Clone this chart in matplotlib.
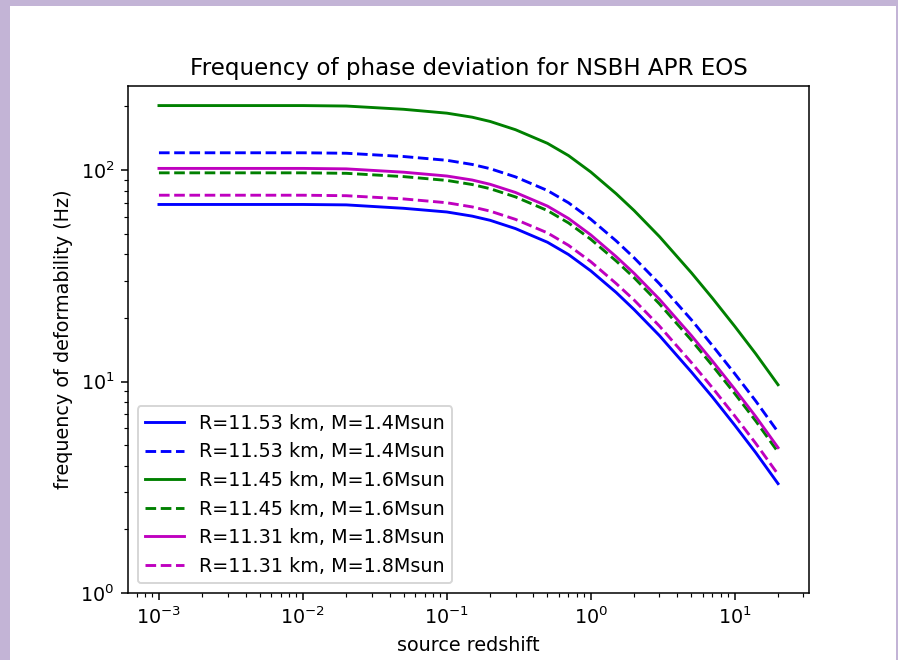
#!/usr/bin/env python3
"""
Frequency of phase deviation for NSBH (APR EOS) vs source redshift.
Log-log plot, values read off the reference figure.
"""

import matplotlib
matplotlib.use("Agg")
import matplotlib.pyplot as plt
from matplotlib.patches import Rectangle

# source redshift samples
z = [0.001, 0.01, 0.02, 0.05, 0.1, 0.15, 0.2, 0.3, 0.5, 0.7, 1, 1.5, 2, 3, 5, 7, 10, 14, 20]

# frequency of deformability (Hz)
f_1p4_solid = [68.8, 68.8, 68.5, 66.0, 63.4, 60.6, 57.9, 52.9, 45.6, 39.9, 33.4, 26.4, 21.9,
               16.5, 11.1, 8.45, 6.22, 4.61, 3.29]
f_1p4_dash = [120.8, 120.8, 120.2, 116.0, 111.3, 106.4, 101.6, 92.9, 80.1, 70.1, 58.6, 46.3, 38.5,
              29.0, 19.6, 14.8, 10.9, 8.09, 5.77]
f_1p6_solid = [202.0, 202.0, 201.0, 194.0, 186.0, 178.0, 169.9, 155.3, 133.9, 117.2, 98.0, 77.4, 64.4,
               48.5, 32.7, 24.8, 18.26, 13.53, 9.66]
f_1p6_dash = [97.1, 97.1, 96.6, 93.2, 89.4, 85.5, 81.7, 74.7, 64.4, 56.3, 47.1, 37.2, 31.0,
              23.3, 15.7, 11.9, 8.78, 6.51, 4.64]
f_1p8_solid = [101.9, 101.9, 101.4, 97.8, 93.8, 89.8, 85.7, 78.4, 67.6, 59.1, 49.4, 39.0, 32.5,
               24.5, 16.5, 12.5, 9.21, 6.83, 4.87]
f_1p8_dash = [76.1, 76.1, 75.7, 73.1, 70.1, 67.0, 64.0, 58.5, 50.5, 44.1, 36.9, 29.1, 24.3,
              18.3, 12.3, 9.35, 6.88, 5.10, 3.64]

labels = [
    "R=11.53 km, M=1.4Msun",
    "R=11.53 km, M=1.4Msun",
    "R=11.45 km, M=1.6Msun",
    "R=11.45 km, M=1.6Msun",
    "R=11.31 km, M=1.8Msun",
    "R=11.31 km, M=1.8Msun",
]


def main():
    dpi = 138
    fig = plt.figure(figsize=(898 / dpi, 660 / dpi), dpi=dpi, facecolor="#c3b4d6")
    # white figure area inside the lavender frame
    fig.patches.append(Rectangle((10 / 898, 0), 886 / 898, 654 / 660,
                                 transform=fig.transFigure, facecolor="white",
                                 edgecolor="none", zorder=-10))

    ax = fig.add_axes([128 / 898, 67 / 660, 681 / 898, 507 / 660])

    series = [f_1p4_solid, f_1p4_dash, f_1p6_solid, f_1p6_dash, f_1p8_solid, f_1p8_dash]
    styles = ["b-", "b--", "g-", "g--", "m-", "m--"]
    for ys, st, lab in zip(series, styles, labels):
        ax.loglog(z, ys, st, label=lab)

    ax.set_ylim(1, 250)
    ax.set_xlabel("source redshift")
    ax.set_ylabel("frequency of deformability (Hz)")
    ax.set_title("Frequency of phase deviation for NSBH APR EOS")
    ax.legend(loc="lower left")

    fig.savefig("out.png", dpi=dpi, facecolor=fig.get_facecolor())


if __name__ == "__main__":
    main()
